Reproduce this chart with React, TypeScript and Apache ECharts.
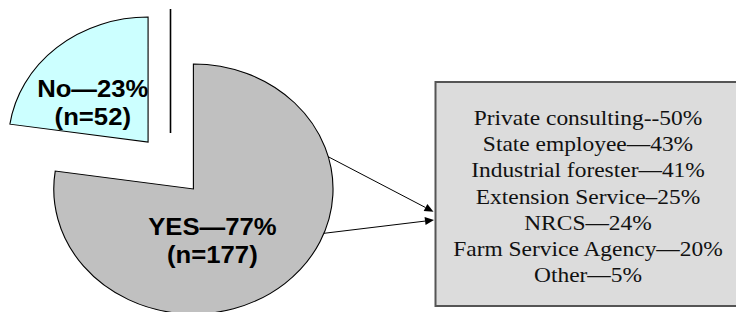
import React, { useEffect, useRef } from "react";
import * as echarts from "echarts";

// ---- data ----
const categories = ["YES", "No"];
const counts = [177, 52];
const sliceColors = ["#c0c0c0", "#ccffff"];
const calloutLines = [
  "Private consulting--50%",
  "State employee\u201443%",
  "Industrial forester\u201441%",
  "Extension Service\u201325%",
  "NRCS\u201424%",
  "Farm Service Agency\u201420%",
  "Other\u20145%",
];

// ---- layout ----
const CX = 193.4;
const CY = 189;
const R = 125;
const SX = 1.117;
const explode = [0, 62];
const labelPos: [number, number][] = [
  [17, 52],
  [-49.5, -39],
];
const SANS = "'Liberation Sans', Arial, Helvetica, sans-serif";
const SERIF = "'Liberation Serif', 'Times New Roman', Times, serif";

function arrow(x1: number, y1: number, x2: number, y2: number) {
  const dx = x2 - x1;
  const dy = y2 - y1;
  const len = Math.sqrt(dx * dx + dy * dy);
  const ux = dx / len;
  const uy = dy / len;
  const nx = -uy;
  const ny = ux;
  const hl = 9;
  const hw = 4;
  const bx = x2 - ux * hl;
  const by = y2 - uy * hl;
  return [
    {
      type: "line",
      shape: { x1, y1, x2: bx, y2: by },
      style: { stroke: "#000", lineWidth: 1 },
    },
    {
      type: "polygon",
      shape: {
        points: [
          [x2, y2],
          [bx + nx * hw, by + ny * hw],
          [bx - nx * hw, by - ny * hw],
        ],
      },
      style: { fill: "#000" },
    },
  ];
}

export default function App() {
  const ref = useRef<HTMLDivElement>(null);
  useEffect(() => {
    if (!ref.current) return;
    const chart = echarts.init(ref.current, undefined, { renderer: "svg" });
    const total = counts.reduce((a, b) => a + b, 0);
    const option: any = {
      animation: false,
      backgroundColor: "#ffffff",
      series: [
        {
          type: "custom",
          coordinateSystem: "none",
          data: counts.map((v, i) => ({ value: v, name: categories[i] })),
          renderItem: (params: any, api: any) => {
            const i = params.dataIndex;
            const v = api.value(0);
            let before = 0;
            for (let j = 0; j < i; j++) before += counts[j];
            const start = -Math.PI / 2 + (before / total) * Math.PI * 2;
            const end = start + (v / total) * Math.PI * 2;
            const mid = (start + end) / 2;
            const ex = explode[i];
            const x = CX + Math.cos(mid) * ex * SX;
            const y = CY + Math.sin(mid) * ex;
            const pct = Math.round((v / total) * 100);
            return {
              type: "group",
              x,
              y,
              scaleX: SX,
              children: [
                {
                  type: "sector",
                  shape: {
                    cx: 0,
                    cy: 0,
                    r0: 0,
                    r: R,
                    startAngle: start,
                    endAngle: end,
                    clockwise: true,
                  },
                  style: {
                    fill: sliceColors[i],
                    stroke: "#000",
                    lineWidth: 1,
                    strokeNoScale: true,
                  },
                },
                {
                  type: "text",
                  x: labelPos[i][0],
                  y: labelPos[i][1],
                  style: {
                    text: `${categories[i]}\u2014${pct}%\n(n=${v})`,
                    fontSize: 23,
                    fontWeight: "bold",
                    fontFamily: SANS,
                    fill: "#000",
                    align: "center",
                    verticalAlign: "middle",
                    lineHeight: 28,
                  },
                },
              ],
            };
          },
        },
      ],
      graphic: [
        {
          type: "line",
          shape: { x1: 170.5, y1: 9, x2: 170.5, y2: 133 },
          style: { stroke: "#000", lineWidth: 1.6 },
        },
        {
          type: "rect",
          shape: { x: 435.5, y: 82, width: 305, height: 224 },
          style: { fill: "#dcdcdc", stroke: "#555", lineWidth: 2 },
        },
        {
          type: "text",
          x: 588,
          y: 196.5,
          scaleX: SX,
          style: {
            text: calloutLines.join("\n"),
            fontSize: 21,
            fontFamily: SERIF,
            fill: "#111",
            align: "center",
            verticalAlign: "middle",
            lineHeight: 26.2,
          },
        },
        ...arrow(323, 154, 433.5, 211.7),
        ...arrow(324, 233.3, 434, 220),
      ],
    };
    chart.setOption(option);
    return () => chart.dispose();
  }, []);
  return (
    <div
      ref={ref}
      style={{ position: "fixed", left: 0, top: 0, width: 736, height: 312 }}
    />
  );
}
